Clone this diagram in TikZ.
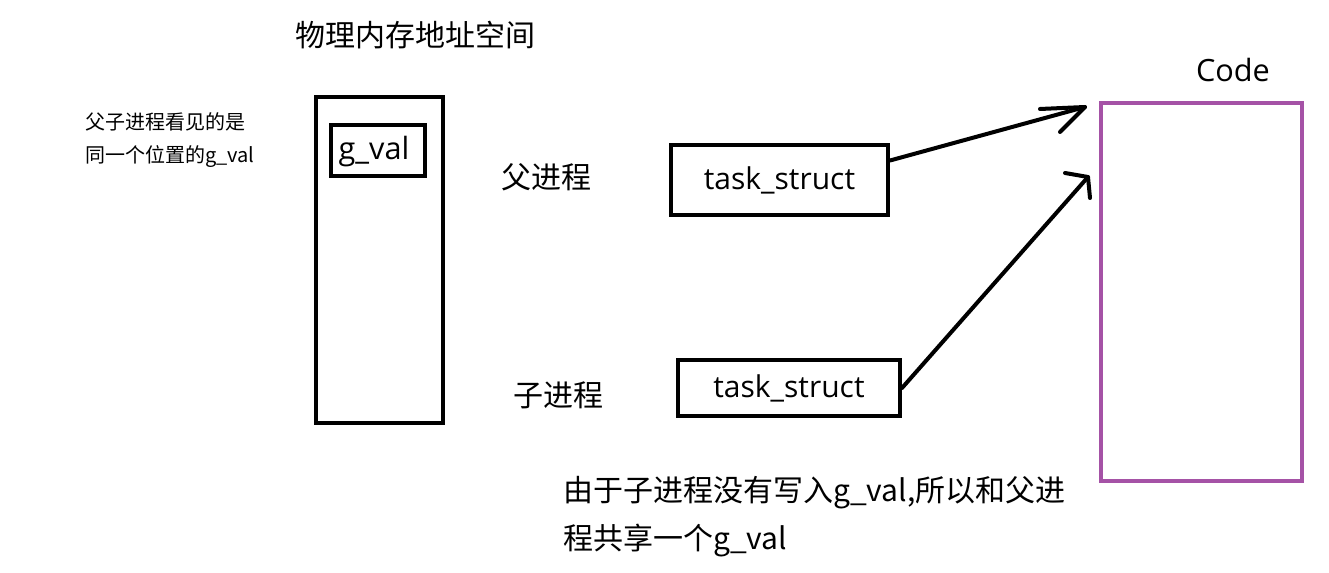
\documentclass[tikz,border=0pt]{standalone}
\usepackage{fontspec}
\setmainfont{Noto Sans CJK SC}
\newfontfamily\latinf{Open Sans}
\definecolor{codepurple}{RGB}{165,82,166}
\tikzset{
  px/.style={x=0.75pt,y=-0.75pt},
  bigtext/.style={inner sep=0pt,font=\fontsize{22.5}{27}\selectfont},
  smalltext/.style={inner sep=0pt,font=\fontsize{15}{18}\selectfont,anchor=west},
  box/.style={draw=black,line width=3pt,inner sep=0pt},
  latintext/.style={font=\latinf\fontsize{22.5}{26}\selectfont},
  arr/.style={draw=black,line width=3pt,line cap=round,line join=round}
}
\begin{document}
\begin{tikzpicture}[px]
\useasboundingbox (0,0) rectangle (1329,573);
% title
\node[bigtext] (title) at (415,35) {物理内存地址空间};
% left note
\node[smalltext] (note1) at (85,122) {父子进程看见的是};
\node[smalltext] (note2) at (85,157) {同一个位置的g\_val};
% memory column
\node[box,minimum width=127*0.75pt,minimum height=326*0.75pt] (mem) at (379.5,260) {};
\node[box,line width=3.5pt,minimum width=94*0.75pt,minimum height=51*0.75pt] (gval) at (378,150.5) {};
\node[inner sep=0pt,font=\latinf\fontsize{23}{26}\selectfont] (gvaltext) at (374,152) {g\_val};
% processes
\node[bigtext] (parent) at (546,177) {父进程};
\node[bigtext] (child) at (558,395) {子进程};
\node[box,latintext,minimum width=217*0.75pt,minimum height=70*0.75pt] (ts1) at (779.5,180) {task\_struct};
\node[box,latintext,minimum width=222*0.75pt,minimum height=56*0.75pt] (ts2) at (789,388) {\raisebox{-2pt}{task\_struct}};
% code
\node[inner sep=0pt,font=\latinf\fontsize{23}{26}\selectfont] (codelabel) at (1233,70) {Code};
\node[draw=codepurple,line width=3pt,inner sep=0pt,minimum width=201*0.75pt,minimum height=378*0.75pt] (code) at (1201.5,292) {};
% arrows
\coordinate (t1) at (1085,107);
\coordinate (b1a) at (1040,109);
\coordinate (b1b) at (1060,132);
\coordinate (t2) at (1088,177);
\coordinate (b2a) at (1065,173);
\coordinate (b2b) at (1090,198);
\draw[arr] (ts1.10) -- (t1);
\draw[arr] (b1a) -- (t1) -- (b1b);
\draw[arr] (ts2.east) -- (t2);
\draw[arr] (b2a) -- (t2) -- (b2b);
% bottom text
\node[bigtext,anchor=west] (expl1) at (563,493) {由于子进程没有写入g\_val,所以和父进};
\node[bigtext,anchor=west] (expl2) at (563,541) {程共享一个g\_val};
\end{tikzpicture}
\end{document}
